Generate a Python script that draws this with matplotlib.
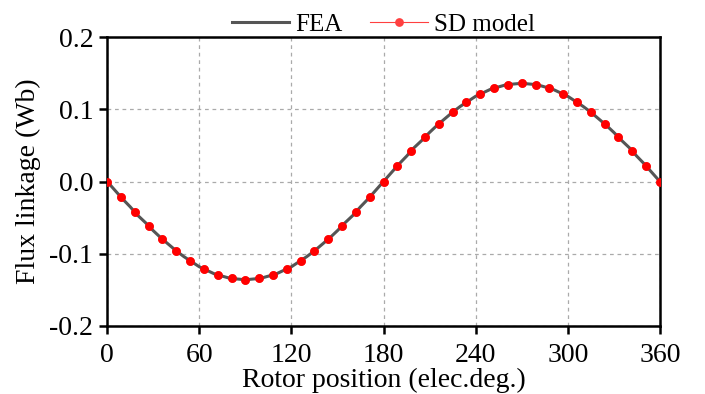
import matplotlib
matplotlib.use('Agg')
import matplotlib.pyplot as plt

# FEA result, every 5 elec.deg
fea_pos = list(range(0, 361, 5))
fea_flux = [0.000, -0.012, -0.024, -0.035, -0.047, -0.057, -0.068, -0.078, -0.087, -0.096,
            -0.104, -0.111, -0.118, -0.123, -0.128, -0.131, -0.134, -0.135, -0.136, -0.135,
            -0.134, -0.131, -0.128, -0.123, -0.118, -0.111, -0.104, -0.096, -0.087, -0.078,
            -0.068, -0.057, -0.047, -0.035, -0.024, -0.012, 0.000,
            0.012, 0.024, 0.035, 0.047, 0.057, 0.068, 0.078, 0.087, 0.096,
            0.104, 0.111, 0.118, 0.123, 0.128, 0.131, 0.134, 0.135, 0.136, 0.135,
            0.134, 0.131, 0.128, 0.123, 0.118, 0.111, 0.104, 0.096, 0.087, 0.078,
            0.068, 0.057, 0.047, 0.035, 0.024, 0.012, 0.000]

# SD model, every 9 elec.deg
sd_pos = list(range(0, 361, 9))
sd_flux = [0.000, -0.021, -0.042, -0.062, -0.080, -0.096, -0.110, -0.121, -0.129, -0.134,
           -0.136, -0.134, -0.129, -0.121, -0.110, -0.096, -0.080, -0.062, -0.042, -0.021,
           0.000, 0.021, 0.042, 0.062, 0.080, 0.096, 0.110, 0.121, 0.129, 0.134,
           0.136, 0.134, 0.129, 0.121, 0.110, 0.096, 0.080, 0.062, 0.042, 0.021, 0.000]

x_ticks = [0, 60, 120, 180, 240, 300, 360]
y_ticks = [-0.2, -0.1, 0.0, 0.1, 0.2]
y_labels = ['-0.2', '-0.1', '0.0', '0.1', '0.2']

plt.rcParams['font.family'] = ['Liberation Serif', 'DejaVu Serif']
plt.rcParams['font.size'] = 20

fig = plt.figure(figsize=(7.05, 3.94), dpi=100)
ax = fig.add_axes([0.152, 0.1726, 0.784, 0.7334])

# red line sits under the FEA curve, dots go on top
ax.plot(sd_pos, sd_flux, color='#ff4040', lw=0.8, marker='o', markersize=6.3,
        markeredgewidth=0, label='SD model', zorder=2)
ax.plot(fea_pos, fea_flux, color='#555555', lw=2.2, label='FEA', zorder=3)
ax.plot(sd_pos, sd_flux, ls='none', marker='o', markersize=6.3, color='red',
        markeredgewidth=0, zorder=4)

ax.set_xlim(0, 360)
ax.set_ylim(-0.2, 0.2)
ax.set_xticks(x_ticks)
ax.set_yticks(y_ticks)
ax.set_yticklabels(y_labels)
ax.grid(True, ls=(0, (3, 3)), color='#aaaaaa', lw=0.9)
ax.tick_params(direction='out', length=6, width=1.8)
ax.tick_params(axis='x', pad=6)
ax.tick_params(axis='y', pad=4)
for s in ax.spines.values():
    s.set_linewidth(1.8)

ax.set_xlabel('Rotor position (elec.deg.)', labelpad=0)
ax.set_ylabel('Flux linkage (Wb)', labelpad=6)

h, l = ax.get_legend_handles_labels()
ax.legend(h[::-1], l[::-1], loc='lower center', bbox_to_anchor=(0.5, 0.97), ncol=2,
          frameon=False, fontsize=18, handlelength=2.3, columnspacing=1.1,
          handletextpad=0.25, borderaxespad=0)

fig.savefig('out.png', dpi=100)
plt.close('all')
